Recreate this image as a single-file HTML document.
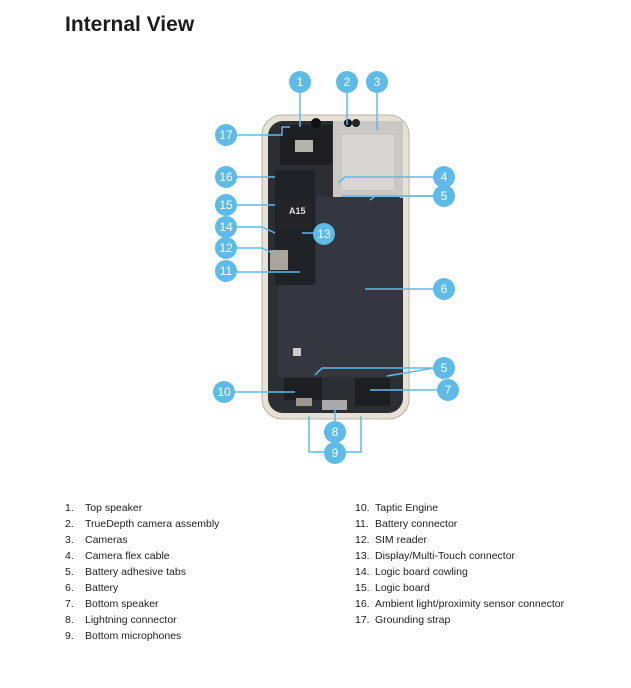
<!DOCTYPE html>
<html><head><meta charset="utf-8"><style>
body{margin:0;background:#fff;width:631px;height:688px;position:relative;font-family:"Liberation Sans",sans-serif;color:#1d1d1f;overflow:hidden}
h1{position:absolute;left:65px;top:13px;margin:0;font-size:21px;font-weight:bold}
.l{position:absolute;font-size:10.5px;line-height:16px}
.l div{position:relative;height:16px}
.l span{position:absolute;left:0}
.l b{font-weight:normal;position:absolute;left:20px;white-space:nowrap}
</style></head><body>
<h1>Internal View</h1>
<svg width="631" height="688" style="position:absolute;left:0;top:0">
<rect x="262" y="115" width="147" height="304" rx="20" fill="#e6e1d4" stroke="#b9b4a8"/>
<rect x="268" y="121" width="135" height="292" rx="15" fill="#2b2e33"/>
<rect x="333" y="121" width="70" height="77" fill="#c9c8c4"/>
<rect x="342" y="135" width="52" height="55" fill="#d8d7d3"/>
<rect x="280" y="125" width="52" height="40" fill="#1c1e22"/>
<rect x="295" y="140" width="18" height="12" fill="#b8b3a8"/>
<circle cx="316" cy="123" r="5" fill="#111"/><circle cx="348" cy="123" r="4" fill="#111"/><circle cx="356" cy="123" r="4" fill="#222"/>
<rect x="316" y="197" width="86" height="178" rx="4" fill="#34373d"/>
<rect x="278" y="285" width="124" height="92" rx="4" fill="#34373d"/>
<rect x="275" y="170" width="40" height="115" fill="#1f2226"/>
<rect x="277" y="200" width="35" height="30" fill="#232529"/>
<text x="289" y="214" font-size="9" font-weight="bold" fill="#ddd">A15</text>
<rect x="270" y="250" width="18" height="20" fill="#aaa59b"/>
<rect x="284" y="378" width="38" height="22" fill="#1c1e22"/>
<rect x="355" y="378" width="35" height="28" fill="#1c1e22"/>
<rect x="296" y="398" width="16" height="8" fill="#9c978d"/>
<rect x="322" y="400" width="25" height="10" fill="#aaa"/>
<rect x="293" y="348" width="8" height="8" fill="#ccc"/>
<g stroke="#5dbbea" stroke-width="1.5" fill="none">
<line x1="300" y1="93" x2="300" y2="127"/><line x1="347" y1="93" x2="347" y2="125"/><line x1="377" y1="93" x2="377" y2="130"/>
<polyline points="236,135 282,135 282,127 290,127"/>
<line x1="236" y1="177" x2="275" y2="177"/><line x1="236" y1="205" x2="275" y2="205"/>
<polyline points="236,227 262,227 275,233"/><polyline points="236,248 262,248 272,253"/><line x1="236" y1="272" x2="300" y2="272"/>
<line x1="314" y1="233" x2="302" y2="233"/>
<polyline points="434,177 345,177 338,183"/><polyline points="434,196 375,196 370,200"/><line x1="434" y1="196" x2="342" y2="196"/>
<line x1="434" y1="289" x2="365" y2="289"/>
<polyline points="434,368 322,368 315,375"/><line x1="434" y1="368" x2="387" y2="376"/>
<line x1="437" y1="390" x2="370" y2="390"/><line x1="234" y1="392" x2="295" y2="392"/>
<line x1="335" y1="421" x2="335" y2="408"/>
<polyline points="309,416 309,452 361,452 361,416"/>
</g>
<g fill="#5dbbea">
<circle cx="300" cy="82" r="11"/><circle cx="347" cy="82" r="11"/><circle cx="377" cy="82" r="11"/>
<circle cx="226" cy="135" r="11"/><circle cx="226" cy="177" r="11"/><circle cx="226" cy="205" r="11"/><circle cx="226" cy="227" r="11"/><circle cx="226" cy="248" r="11"/><circle cx="226" cy="271" r="11"/>
<circle cx="324" cy="234" r="11"/>
<circle cx="444" cy="177" r="11"/><circle cx="444" cy="196" r="11"/><circle cx="444" cy="289" r="11"/><circle cx="444" cy="368" r="11"/><circle cx="448" cy="390" r="11"/>
<circle cx="224" cy="392" r="11"/><circle cx="335" cy="432" r="11"/><circle cx="335" cy="453" r="11"/>
</g>
<g fill="#fff" font-size="12" text-anchor="middle" font-family="Liberation Sans">
<text x="300" y="86">1</text><text x="347" y="86">2</text><text x="377" y="86">3</text>
<text x="226" y="139">17</text><text x="226" y="181">16</text><text x="226" y="209">15</text><text x="226" y="231">14</text><text x="226" y="252">12</text><text x="226" y="275">11</text>
<text x="324" y="238">13</text>
<text x="444" y="181">4</text><text x="444" y="200">5</text><text x="444" y="293">6</text><text x="444" y="372">5</text><text x="448" y="394">7</text>
<text x="224" y="396">10</text><text x="335" y="436">8</text><text x="335" y="457">9</text>
</g>
</svg>
<div class="l" style="left:65px;top:500px">
<div><span>1.</span><b>Top speaker</b></div>
<div><span>2.</span><b>TrueDepth camera assembly</b></div>
<div><span>3.</span><b>Cameras</b></div>
<div><span>4.</span><b>Camera flex cable</b></div>
<div><span>5.</span><b>Battery adhesive tabs</b></div>
<div><span>6.</span><b>Battery</b></div>
<div><span>7.</span><b>Bottom speaker</b></div>
<div><span>8.</span><b>Lightning connector</b></div>
<div><span>9.</span><b>Bottom microphones</b></div>
</div>
<div class="l" style="left:355px;top:500px">
<div><span>10.</span><b>Taptic Engine</b></div>
<div><span>11.</span><b>Battery connector</b></div>
<div><span>12.</span><b>SIM reader</b></div>
<div><span>13.</span><b>Display/Multi-Touch connector</b></div>
<div><span>14.</span><b>Logic board cowling</b></div>
<div><span>15.</span><b>Logic board</b></div>
<div><span>16.</span><b>Ambient light/proximity sensor connector</b></div>
<div><span>17.</span><b>Grounding strap</b></div>
</div>
</body></html>
